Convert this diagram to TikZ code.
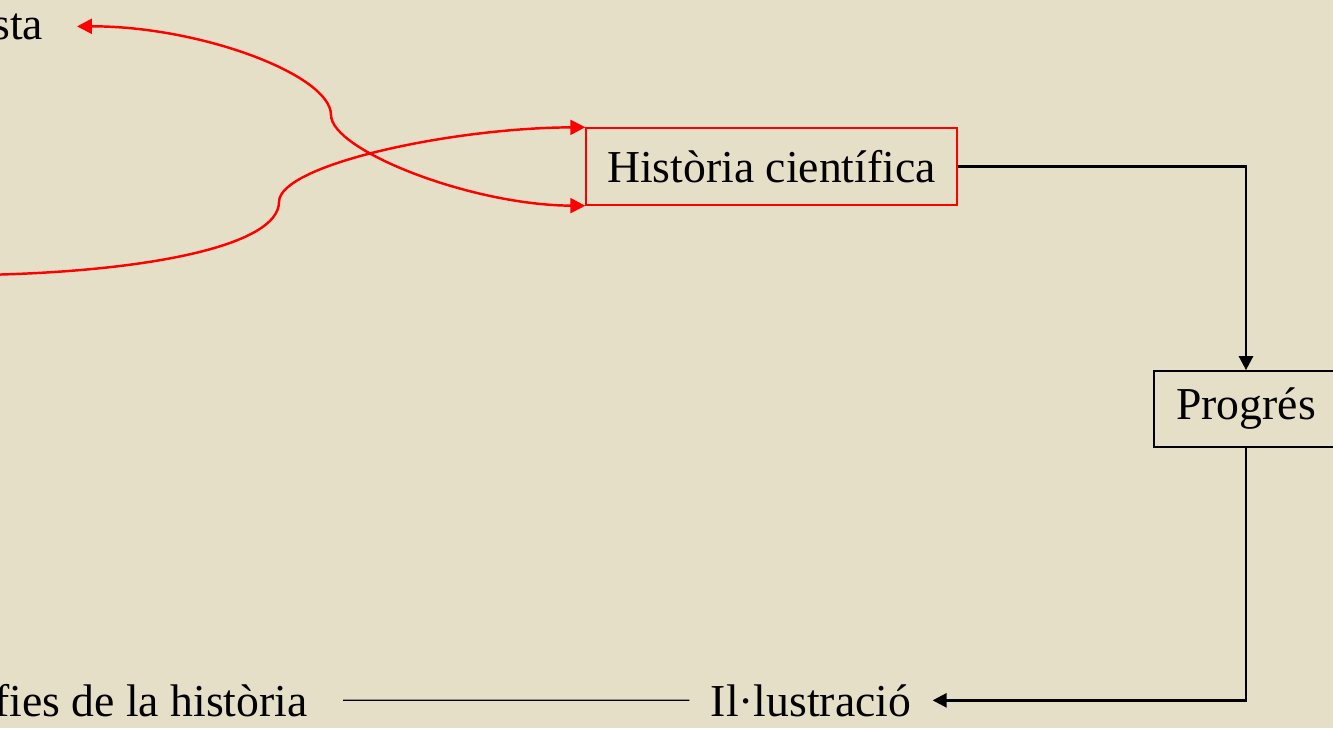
\documentclass[tikz,border=0pt]{standalone}
\usepackage{fontspec}
\setmainfont{Liberation Serif}
\usetikzlibrary{arrows.meta}
\definecolor{paper}{RGB}{230,223,199}
\definecolor{hred}{RGB}{255,0,0}
\tikzstyle{word}=[shape=rectangle,
	       inner xsep=12pt,
	       inner ysep=0pt,
	       font=\fontsize{26}{31}\selectfont]
\tikzstyle{box}=[word,
	       draw=black,
	       line width=1pt,
	       inner sep=0pt]
\tikzstyle{redbox}=[box,
	       draw=hred,
	       line width=0.85pt]
\tikzstyle{redarrow}=[draw=hred,
	       line width=1.4pt,
	       -{Triangle[length=8.5pt,width=8.5pt]}]
\tikzstyle{blackarrow}=[draw=black,
	       line width=1.5pt,
	       -{Triangle[length=8pt,width=8pt]}]

\begin{document}
\begin{tikzpicture}[x=0.02cm,y=-0.02cm]

% page and background
\useasboundingbox (0,0) rectangle (1333,728);
\clip (0,0) rectangle (1333,728);
\fill[paper] (0,0) rectangle (1333,728);

% boxes
\node[redbox, minimum width=7.42cm, minimum height=1.54cm] (hist) at (771.5,166.5) {Història científica};
\node[box, minimum width=3.68cm, minimum height=1.52cm] (prog) at (1246,409) {Progrés};

% plain words
\node[word, inner xsep=19pt, anchor=base east] (sta) at (77,39) {sta};
\node[word, anchor=base] (ilus) at (811,716) {Il·lustració};
\node[word, inner xsep=20pt, anchor=base east] (fies) at (343,716) {fies de la història};

% bend points of the red curves
\coordinate (kinkA) at (331,115);
\coordinate (kinkB) at (279,202);
\coordinate (offleft) at (-20,275);

% red curves
\draw[redarrow, {Triangle[length=8.5pt,width=8.5pt]}-{Triangle[length=8.5pt,width=8.5pt]}]
  (sta.east) .. controls (200,26) and (331,75) .. (kinkA)
  .. controls (331,150) and (470,205) .. (hist.south west);
\draw[redarrow] (offleft) .. controls (150,272) and (279,245) .. (kinkB)
  .. controls (279,165) and (450,128) .. (hist.north west);

% black connectors
\draw[blackarrow] (hist.east) -| (prog.north);
\draw[blackarrow] (prog.south) |- (ilus.east);
\draw[line width=0.7pt] (fies.east) -- (ilus.west);

\end{tikzpicture}
\end{document}
